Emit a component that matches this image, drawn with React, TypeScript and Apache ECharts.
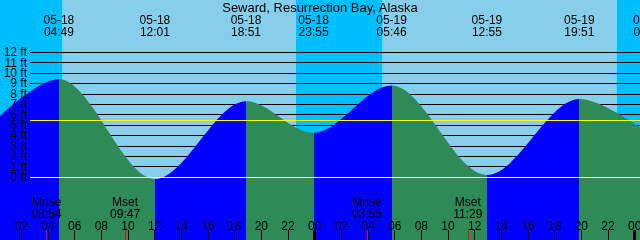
import React, { useEffect, useRef } from 'react';
import * as echarts from 'echarts';

const titleText = 'Seward, Resurrection Bay, Alaska';

// Tide extremes (hours since 05-18 00:00) and heights in ft
const tideHours = [-0.917, 4.817, 12.017, 18.85, 23.917, 29.767, 36.917, 43.85, 49.033];
const tideFeet = [4.2, 9.4, -0.2, 7.3, 4.25, 8.8, 0.2, 7.5, 4.2];
const tideDates = ['05-17', '05-18', '05-18', '05-18', '05-18', '05-19', '05-19', '05-19', '05-20'];
const tideTimes = ['23:05', '04:49', '12:01', '18:51', '23:55', '05:46', '12:55', '19:51', '01:02'];

// Sunrise / sunset (hours since 05-18 00:00)
const sunriseHours = [5.1, 29.1];
const sunsetHours = [22.6, 46.65];

// Moon events
const moonHours = [3.9, 9.783, 27.917, 35.483];
const moonKinds = ['Mrise', 'Mset', 'Mrise', 'Mset'];
const moonTimes = ['03:54', '09:47', '03:55', '11:29'];

// Hour ticks along the bottom
const hourTicks = [2, 4, 6, 8, 10, 12, 14, 16, 18, 20, 22, 24, 26, 28, 30, 32, 34, 36, 38, 40, 42, 44, 46, 48];
const hourLabels = ['02', '04', '06', '08', '10', '12', '14', '16', '18', '20', '22', '00', '02', '04', '06', '08', '10', '12', '14', '16', '18', '20', '22', '00'];
const midnightTicks = [24, 48];

// Height ticks, ft
const feetTicks = [0, 1, 2, 3, 4, 5, 6, 7, 8, 9, 10, 11, 12];

// Reference level (yellow line), ft
const refLevel = 5.45;

const FONT = 'Liberation Sans';
const NIGHT = '#00BFFF';
const DAY = '#87CEEB';
const RISE = '#0000FF';
const FALL = '#2E8B57';

const X_MIN = 0.4;
const X_MAX = 52.9;
const Y_MIN = -6.063;
const Y_MAX = 17.035;

function buildOption() {
  const bands: any[] = [];
  let prev = X_MIN;
  for (let i = 0; i < sunriseHours.length; i++) {
    bands.push([{ xAxis: prev, itemStyle: { color: NIGHT } }, { xAxis: sunriseHours[i] }]);
    bands.push([{ xAxis: sunriseHours[i], itemStyle: { color: DAY } }, { xAxis: sunsetHours[i] }]);
    prev = sunsetHours[i];
  }
  bands.push([{ xAxis: prev, itemStyle: { color: NIGHT } }, { xAxis: X_MAX }]);

  const pieces: any[] = [];
  for (let i = 0; i < tideHours.length - 1; i++) {
    pieces.push({
      gte: tideHours[i],
      lt: tideHours[i + 1],
      color: tideFeet[i + 1] > tideFeet[i] ? RISE : FALL,
    });
  }

  const txt = { color: '#000', fontFamily: FONT, fontSize: 12 };

  // two label axes (even / odd feet) so that neighbouring labels are never dropped
  const feetLabelAxis = (values: number[]) => ({
    type: 'value', gridIndex: 1, position: 'left', min: 0, max: 12, interval: 1, z: 3,
    axisLine: { show: false, onZero: false }, axisTick: { show: false },
    axisLabel: {
      show: true, margin: 3, customValues: values, formatter: '{value} ft',
      hideOverlap: false, showMinLabel: true, showMaxLabel: true, ...txt, lineHeight: 12,
    },
    splitLine: { show: false },
  });

  return {
    animation: false,
    textStyle: { fontFamily: FONT },
    title: {
      text: titleText,
      left: 'center',
      top: 1,
      padding: 0,
      textStyle: { fontSize: 13, fontWeight: 'normal', color: '#000', fontFamily: FONT, lineHeight: 13 },
    },
    grid: [
      { left: 0, top: 0, width: 700, height: 240, outerBoundsMode: 'none', containLabel: false },
      { left: 30, right: 0, top: 52.3, bottom: 63, outerBoundsMode: 'none', containLabel: false },
    ],
    visualMap: {
      type: 'piecewise',
      show: false,
      dimension: 0,
      seriesIndex: 1,
      pieces,
      outOfRange: { color: FALL },
    },
    xAxis: [
      {
        type: 'value', gridIndex: 0, position: 'bottom', min: X_MIN, max: X_MAX, z: 3,
        axisLine: { show: false, onZero: false },
        axisTick: { show: true, inside: true, length: 10, customValues: hourTicks, lineStyle: { color: '#000', width: 1 } },
        axisLabel: {
          show: true, inside: true, margin: 8, customValues: hourTicks, ...txt, lineHeight: 12,
          formatter: (v: number) => hourLabels[hourTicks.indexOf(v)] ?? '',
        },
        splitLine: { show: false },
      },
      {
        type: 'value', gridIndex: 0, position: 'bottom', min: X_MIN, max: X_MAX, z: 3,
        axisLine: { show: false, onZero: false },
        axisTick: { show: true, inside: true, length: 10, customValues: midnightTicks, lineStyle: { color: '#000', width: 3 } },
        axisLabel: { show: false },
        splitLine: { show: false },
      },
      {
        type: 'value', gridIndex: 0, position: 'bottom', min: X_MIN, max: X_MAX, z: 3,
        axisLine: { show: false, onZero: false },
        axisTick: { show: true, inside: true, length: 10, customValues: moonHours, lineStyle: { color: '#FF0000', width: 1 } },
        axisLabel: {
          show: true, inside: true, margin: 20, customValues: moonHours, ...txt, lineHeight: 12,
          formatter: (v: number) => {
            const i = moonHours.indexOf(v);
            return i >= 0 ? moonKinds[i] + '\n' + moonTimes[i] : '';
          },
        },
        splitLine: { show: false },
      },
      {
        type: 'value', gridIndex: 0, position: 'top', min: X_MIN, max: X_MAX, z: 3,
        axisLine: { show: false, onZero: false },
        axisTick: { show: false },
        axisLabel: {
          show: true, inside: true, margin: 14, customValues: tideHours, ...txt, lineHeight: 12,
          formatter: (v: number) => {
            const i = tideHours.indexOf(v);
            return i >= 0 ? tideDates[i] + '\n' + tideTimes[i] : '';
          },
        },
        splitLine: { show: false },
      },
      {
        type: 'value', gridIndex: 1, min: 0, max: 1, show: false,
        axisLine: { onZero: false },
      },
    ],
    yAxis: [
      { type: 'value', gridIndex: 0, position: 'left', min: Y_MIN, max: Y_MAX, show: false },
      {
        type: 'value', gridIndex: 1, position: 'left', min: 0, max: 12, interval: 1, z: 1.5,
        axisLine: { show: false, onZero: false }, axisTick: { show: false }, axisLabel: { show: false },
        splitLine: { show: true, lineStyle: { color: '#000', width: 1 } },
      },
      feetLabelAxis(feetTicks.filter((v) => v % 2 === 0)),
      feetLabelAxis(feetTicks.filter((v) => v % 2 === 1)),
    ],
    series: [
      {
        type: 'line', xAxisIndex: 0, yAxisIndex: 0, data: [], z: 1, silent: true,
        markArea: { silent: true, z: 1, data: bands, itemStyle: { borderWidth: 0 } },
      },
      {
        type: 'line', xAxisIndex: 0, yAxisIndex: 0, z: 2, silent: true,
        data: tideHours.map((h, i) => [h, tideFeet[i]]),
        smooth: 1 / 3,
        smoothMonotone: 'x',
        symbol: 'none',
        lineStyle: { width: 0, opacity: 0 },
        areaStyle: { opacity: 1, origin: 'start' },
        clip: true,
      },
      {
        type: 'line', xAxisIndex: 4, yAxisIndex: 1, data: [], z: 5, silent: true,
        markLine: {
          silent: true, symbol: 'none', z: 5,
          label: { show: false },
          data: [
            { yAxis: refLevel, lineStyle: { color: '#FFFF00', width: 1, type: 'solid' } },
            { yAxis: 0, lineStyle: { color: '#FFFFFF', width: 1, type: 'solid' } },
          ],
        },
      },
    ],
  };
}

export default function App() {
  const ref = useRef<HTMLDivElement>(null);
  useEffect(() => {
    document.body.style.margin = '0';
    const chart = echarts.init(ref.current!, undefined, { renderer: 'svg' });
    chart.setOption(buildOption() as any);
    return () => chart.dispose();
  }, []);
  return <div ref={ref} style={{ position: 'fixed', left: 0, top: 0, width: 640, height: 240, overflow: 'hidden' }} />;
}
